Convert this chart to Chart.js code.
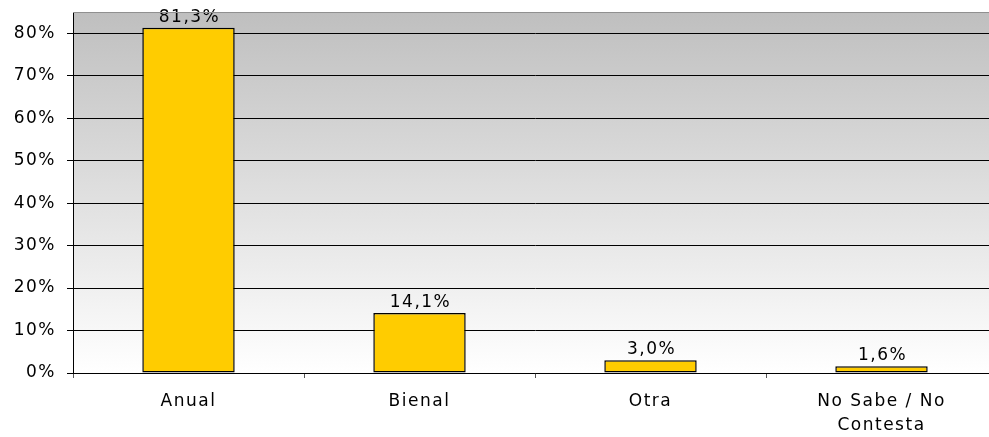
<!DOCTYPE html>
<html>
<head>
<meta charset="utf-8">
<script src="https://cdn.jsdelivr.net/npm/chart.js@4.4.1/dist/chart.umd.min.js"></script>
<style>
html,body{margin:0;padding:0;background:#fff;overflow:hidden;width:989px;height:437px;}
#wrap{position:relative;width:997px;height:437px;}
</style>
</head>
<body>
<div id="wrap"><canvas id="c"></canvas></div>
<script>
const categories = ["Anual", "Bienal", "Otra", ["No Sabe / No", "Contesta"]];
const values = [81.3, 14.1, 3.0, 1.6];
const yTicks = [0, 10, 20, 30, 40, 50, 60, 70, 80];

const FONT = "'DejaVu Sans', Verdana, sans-serif";
const LS = '1.5px';
const FS = 17;

const spacingPlugin = {
  id: 'spacing',
  beforeLayout(chart) { chart.ctx.letterSpacing = LS; },
  beforeDraw(chart) { chart.ctx.letterSpacing = LS; }
};

const bgPlugin = {
  id: 'bg',
  beforeDraw(chart) {
    const {ctx, chartArea: a} = chart;
    ctx.save();
    const g = ctx.createLinearGradient(0, a.top, 0, a.bottom);
    g.addColorStop(0, '#bfbfbf');
    g.addColorStop(1, '#ffffff');
    ctx.fillStyle = g;
    ctx.fillRect(a.left, a.top, a.right - a.left, a.bottom - a.top);
    ctx.restore();
  },
  afterDraw(chart) {
    const {ctx, chartArea: a} = chart;
    ctx.save();
    ctx.strokeStyle = '#909090';
    ctx.lineWidth = 1;
    ctx.beginPath();
    ctx.moveTo(a.left, Math.round(a.top) + 0.5);
    ctx.lineTo(a.right, Math.round(a.top) + 0.5);
    ctx.stroke();
    ctx.restore();
  }
};

const labelPlugin = {
  id: 'vlabels',
  afterDatasetsDraw(chart) {
    const ctx = chart.ctx;
    const meta = chart.getDatasetMeta(0);
    ctx.save();
    ctx.letterSpacing = LS;
    ctx.font = FS + 'px ' + FONT;
    ctx.fillStyle = '#000';
    ctx.textAlign = 'center';
    ctx.textBaseline = 'bottom';
    meta.data.forEach((bar, i) => {
      const txt = values[i].toFixed(1).replace('.', ',') + '%';
      ctx.fillText(txt, bar.x + 1, bar.y - 2);
    });
    ctx.restore();
  }
};

new Chart(document.getElementById('c'), {
  type: 'bar',
  data: {
    labels: categories,
    datasets: [{
      data: values,
      backgroundColor: '#ffcc00',
      borderColor: '#000000',
      borderWidth: 1.5,
      borderSkipped: false,
      categoryPercentage: 1,
      barPercentage: 0.4
    }]
  },
  options: {
    responsive: true,
    maintainAspectRatio: false,
    animation: false,
    devicePixelRatio: 1,
    layout: { padding: { top: 12, left: 0, right: 0, bottom: 0 } },
    plugins: { legend: { display: false }, tooltip: { enabled: false } },
    scales: {
      x: {
        offset: true,
        grid: { display: true, drawOnChartArea: false, drawTicks: true, tickLength: 5, color: '#555', offset: true },
        border: { display: true, color: '#000' },
        ticks: { color: '#000', font: { family: FONT, size: FS, lineHeight: 1.4 }, padding: 12, maxRotation: 0, autoSkip: false },
        afterFit(scale) { scale.height = 64; scale.paddingLeft = 0; scale.paddingRight = 0; }
      },
      y: {
        min: 0, max: 85,
        afterBuildTicks(scale) { scale.ticks = yTicks.map(v => ({ value: v })); },
        grid: { color: '#000', tickLength: 6, drawTicks: true },
        border: { display: true, color: '#000' },
        ticks: { color: '#000', font: { family: FONT, size: FS }, padding: 11, callback: v => v + '%' },
        afterFit(scale) { scale.width = 73; scale.paddingTop = 0; scale.paddingBottom = 0; }
      }
    }
  },
  plugins: [spacingPlugin, bgPlugin, labelPlugin]
});
</script>
</body>
</html>
